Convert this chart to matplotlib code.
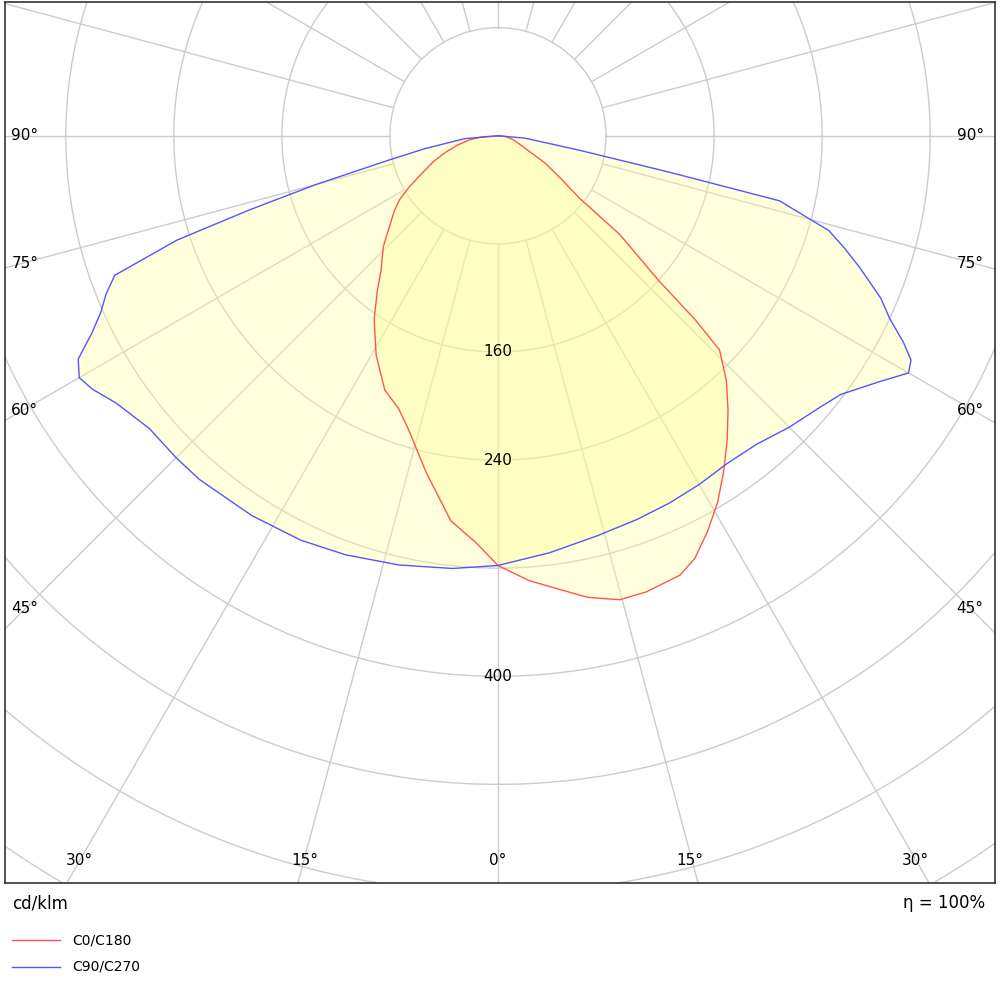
import numpy as np
import matplotlib
matplotlib.use("Agg")
import matplotlib.pyplot as plt

# C0 (right half) and C180 (left half), gamma in degrees, intensity cd/klm
c0_g = [0, 4, 7.8, 11, 14.7, 18, 22.5, 25, 28, 31, 34, 37, 40, 43, 46, 47, 48, 51, 52.5, 56, 60, 68, 75, 80, 85, 90]
c0_i = [318, 330, 339, 348, 355, 355, 352, 345, 331, 316, 299, 282, 265, 248, 228, 200, 160, 116, 77, 55, 40, 18, 12, 8, 5, 0]
c180_g = [0, 3, 7, 12, 17, 20, 24, 29, 34, 38, 41, 46, 50, 54, 57, 60, 63, 68, 72, 77, 82, 86, 90]
c180_i = [318, 302, 287, 255, 227, 215, 206, 186, 164, 145, 132, 118, 105, 95, 87, 76, 65, 52, 42, 31, 21, 12, 0]
# C90 (right) and C270 (left)
c90_g = [0, 7, 14, 20, 25, 30, 35, 40, 45, 50, 53, 57, 60, 61.5, 63, 65, 67, 70, 72, 74, 77, 78, 80, 85, 90]
c90_i = [318, 311, 305, 302, 300, 298, 296, 298, 305, 312, 318, 335, 351, 348, 337, 320, 308, 285, 270, 255, 214, 130, 60, 20, 0]
c270_g = [0, 6, 13, 20, 26, 33, 41, 45, 50, 55, 58, 60, 62, 64, 66, 68, 70, 72, 73.4, 75, 77.5, 80, 85, 90]
c270_i = [318, 322, 326, 330, 333, 335, 337, 337, 337, 345, 354, 358, 352, 335, 322, 313, 302, 250, 192, 140, 82, 55, 25, 0]

ring_vals = [80, 160, 240, 320, 400, 480, 560, 640, 720]
ring_labels = {160: "160", 240: "240", 400: "400"}

def curve(rg, ri, lg, li):
    rg, ri, lg, li = map(np.array, (rg, ri, lg, li))
    xr = ri * np.sin(np.radians(rg)); yr = ri * np.cos(np.radians(rg))
    xl = -li * np.sin(np.radians(lg)); yl = li * np.cos(np.radians(lg))
    x = np.concatenate([xl[::-1], xr]); y = np.concatenate([yl[::-1], yr])
    return x, y

fig = plt.figure(figsize=(10, 9.86), dpi=100)
ax = fig.add_axes([0.005, 1 - 883 / 986, 0.99, 881 / 986])
ax.set_xlim(-365, 368)
ax.set_ylim(553, -99)
ax.set_aspect('auto')
ax.set_xticks([]); ax.set_yticks([])
for s in ax.spines.values():
    s.set_color('#333333'); s.set_linewidth(1.2)

gc = '#cccccc'
th = np.linspace(0, 2 * np.pi, 400)
for r in ring_vals:
    ax.plot(r * np.cos(th), r * np.sin(th), color=gc, lw=1, zorder=1)
for a in range(0, 360, 15):
    t = np.radians(a)
    ax.plot([80 * np.sin(t), 1000 * np.sin(t)], [80 * np.cos(t), 1000 * np.cos(t)],
            color=gc, lw=1, zorder=1)

x1, y1 = curve(c90_g, c90_i, c270_g, c270_i)
x2, y2 = curve(c0_g, c0_i, c180_g, c180_i)
ax.fill(x1, y1, color='#ffff99', alpha=0.35, lw=0, zorder=2)
ax.fill(x2, y2, color='#ffff99', alpha=0.35, lw=0, zorder=2)
ax.plot(x2, y2, color='#ff5555', lw=1, zorder=3)
ax.plot(x1, y1, color='#5555ff', lw=1, zorder=3)

for r, lab in ring_labels.items():
    ax.text(0, r, lab, ha='center', va='center', fontsize=11, zorder=4)

s = 1.35
def px(xp, yp):
    return (xp - 498) / s, (yp - 136) / s
for lab, yp in [("90°", 136), ("75°", 264), ("60°", 410), ("45°", 608)]:
    ax.text(*px(25, yp), lab, ha='center', va='center', fontsize=11)
    ax.text(*px(970, yp), lab, ha='center', va='center', fontsize=11)
for lab, xp in [("30°", 80), ("15°", 305), ("0°", 498), ("15°", 690), ("30°", 915)]:
    ax.text(*px(xp, 860), lab, ha='center', va='center', fontsize=11)

fig.text(12 / 1000, 1 - 903 / 986, "cd/klm", ha='left', va='center', fontsize=12)
fig.text(985 / 1000, 1 - 903 / 986, "η = 100%", ha='right', va='center', fontsize=12)
for yp, col, lab in [(940, '#ff5555', 'C0/C180'), (967, '#5555ff', 'C90/C270')]:
    fig.add_artist(plt.Line2D([12 / 1000, 60 / 1000], [1 - yp / 986] * 2, color=col, lw=1))
    fig.text(72 / 1000, 1 - yp / 986, lab, ha='left', va='center', fontsize=10)

fig.savefig("out.png", dpi=100, facecolor='white')
